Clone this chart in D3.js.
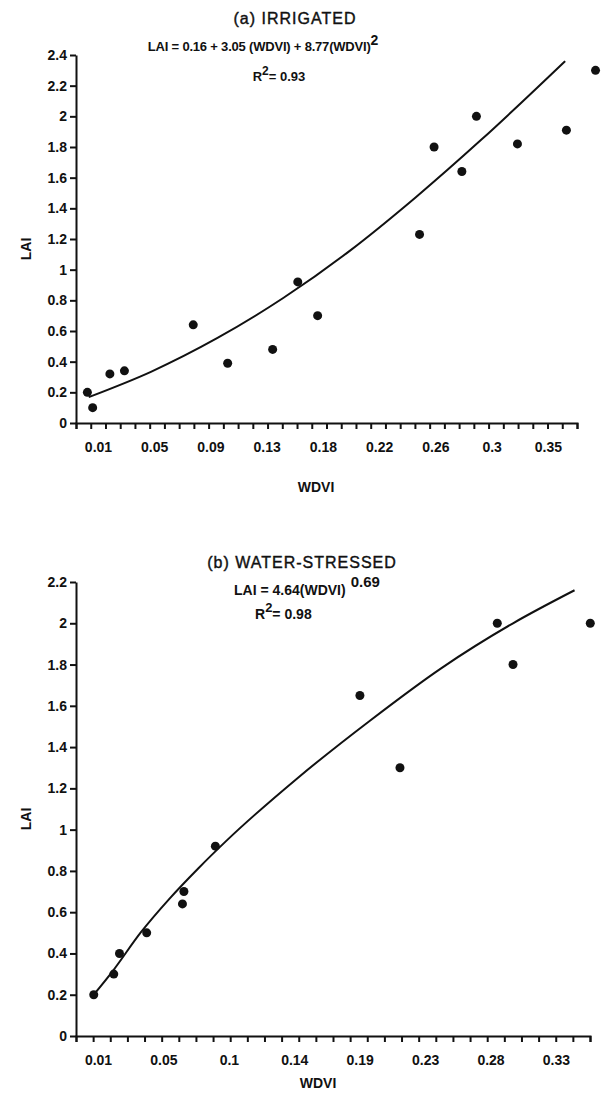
<!DOCTYPE html>
<html>
<head>
<meta charset="utf-8">
<script src="https://cdn.jsdelivr.net/npm/d3@7"></script>
<style>
  body { margin: 0; background: #fff; }
  svg text { font-family: "Liberation Sans", Arial, sans-serif; fill: #111; }
</style>
</head>
<body>
<svg id="chart" width="602" height="1093"></svg>
<script>
// ---------- DATA ----------
// (a) Irrigated
const irrWdvi = [0.002, 0.006, 0.019, 0.030, 0.082, 0.108, 0.142, 0.161, 0.176, 0.253, 0.264, 0.285, 0.296, 0.327, 0.364, 0.386];
const irrLai  = [0.20, 0.10, 0.32, 0.34, 0.64, 0.39, 0.48, 0.92, 0.70, 1.23, 1.80, 1.64, 2.00, 1.82, 1.91, 2.30];
const irrFitWdvi = [0.003, 0.05, 0.10, 0.15, 0.20, 0.25, 0.30, 0.363];
const irrFitLai  = [0.169, 0.334, 0.553, 0.815, 1.121, 1.471, 1.850, 2.36];
const irrXLabels = ["0.01", "0.05", "0.09", "0.13", "0.18", "0.22", "0.26", "0.3", "0.35"];
const irrYLabels = ["0", "0.2", "0.4", "0.6", "0.8", "1", "1.2", "1.4", "1.6", "1.8", "2", "2.2", "2.4"];

// (b) Water-stressed
const wsWdvi = [0.007, 0.021, 0.025, 0.044, 0.069, 0.070, 0.092, 0.193, 0.221, 0.289, 0.300, 0.354];
const wsLai  = [0.20, 0.30, 0.40, 0.50, 0.64, 0.70, 0.92, 1.65, 1.30, 2.00, 1.80, 2.00];
const wsFitWdvi = [0.007, 0.02, 0.04, 0.06, 0.08, 0.10, 0.15, 0.20, 0.25, 0.30, 0.343];
const wsFitLai  = [0.200, 0.312, 0.503, 0.666, 0.812, 0.948, 1.253, 1.528, 1.783, 2.000, 2.16];
const wsXLabels = ["0.01", "0.05", "0.1", "0.14", "0.19", "0.23", "0.28", "0.33"];
const wsYLabels = ["0", "0.2", "0.4", "0.6", "0.8", "1", "1.2", "1.4", "1.6", "1.8", "2", "2.2"];

// ---------- DRAW ----------
const svg = d3.select("#chart");

function panel(cfg) {
  const g = svg.append("g");
  const x = d3.scaleLinear().domain(cfg.xDomain).range([cfg.left, cfg.right]);
  const y = d3.scaleLinear().domain([0, cfg.yMax]).range([cfg.bottom, cfg.top]);

  const l0 = +cfg.xLabels[0], l1 = +cfg.xLabels[cfg.xLabels.length - 1];
  const labelVals = cfg.xLabels.map((d, i) => l0 + i * (l1 - l0) / (cfg.xLabels.length - 1));
  const minorVals = d3.range(cfg.minorCount + 1).map(i => cfg.xDomain[0] + i * (cfg.xDomain[1] - cfg.xDomain[0]) / cfg.minorCount);

  const xAxis = g.append("g").attr("transform", `translate(0,${cfg.bottom})`)
    .call(d3.axisBottom(x).tickValues(minorVals).tickFormat("").tickSize(6).tickSizeOuter(6));
  xAxis.selectAll("path,line").attr("stroke", "#111").attr("stroke-width", 2);

  const xLab = g.append("g").attr("transform", `translate(0,${cfg.bottom})`)
    .call(d3.axisBottom(x).tickValues(labelVals).tickFormat((d, i) => cfg.xLabels[i]).tickSize(0).tickPadding(19));
  xLab.select(".domain").remove();
  xLab.selectAll("text").attr("font-size", 14).attr("font-weight", "bold")
    .style("font-family", '"Liberation Sans", Arial, sans-serif').attr("fill", "#111");

  const yVals = cfg.yLabels.map(d => +d);
  const yAxis = g.append("g").attr("transform", `translate(${cfg.left},0)`)
    .call(d3.axisLeft(y).tickValues(yVals).tickFormat((d, i) => cfg.yLabels[i]).tickSize(6).tickSizeOuter(0).tickPadding(3));
  yAxis.selectAll("path,line").attr("stroke", "#111").attr("stroke-width", 2);
  yAxis.selectAll("text").attr("font-size", 14).attr("font-weight", "bold")
    .style("font-family", '"Liberation Sans", Arial, sans-serif').attr("fill", "#111");

  const fit = cfg.fitX.map((d, i) => [d, cfg.fitY[i]]);
  g.append("path").datum(fit)
    .attr("d", d3.line().x(d => x(d[0])).y(d => y(d[1])).curve(d3.curveMonotoneX))
    .attr("fill", "none").attr("stroke", "#111").attr("stroke-width", 2);

  g.selectAll("circle.pt").data(cfg.px.map((d, i) => [d, cfg.py[i]])).enter()
    .append("circle").attr("class", "pt")
    .attr("cx", d => x(d[0])).attr("cy", d => y(d[1])).attr("r", 4.5).attr("fill", "#111");

  g.append("text").attr("transform", `translate(${cfg.yTitleX},${(cfg.top + cfg.bottom) / 2 + 10}) rotate(-90)`)
    .attr("text-anchor", "middle").attr("font-size", 14).attr("font-weight", "bold").text("LAI");
  g.append("text").attr("x", cfg.xTitleX).attr("y", cfg.xTitleY)
    .attr("text-anchor", "middle").attr("font-size", 14).attr("font-weight", "bold").text("WDVI");
  return g;
}

panel({
  left: 76, right: 577, top: 55, bottom: 423, yMax: 2.4,
  xDomain: [-0.0066, 0.372], minorCount: 34,
  xLabels: irrXLabels, yLabels: irrYLabels,
  px: irrWdvi, py: irrLai, fitX: irrFitWdvi, fitY: irrFitLai,
  yTitleX: 31, xTitleX: 316, xTitleY: 492
});

panel({
  left: 76, right: 590, top: 582, bottom: 1036, yMax: 2.2,
  xDomain: [-0.0054, 0.3538], minorCount: 30,
  xLabels: wsXLabels, yLabels: wsYLabels,
  px: wsWdvi, py: wsLai, fitX: wsFitWdvi, fitY: wsFitLai,
  yTitleX: 31, xTitleX: 318, xTitleY: 1088
});

function title(xc, yb, txt) {
  svg.append("text").attr("x", xc).attr("y", yb).attr("text-anchor", "middle")
    .attr("font-size", 16).attr("letter-spacing", 1).attr("font-weight", "normal")
    .attr("stroke", "#111").attr("stroke-width", 0.4).text(txt);
}
title(295, 24, "(a) IRRIGATED");
title(302, 568, "(b) WATER-STRESSED");

const eqA = svg.append("text").attr("x", 263).attr("y", 51).attr("text-anchor", "middle")
  .attr("font-size", 13).attr("font-weight", "bold").attr("letter-spacing", -0.2);
eqA.append("tspan").text("LAI = 0.16 + 3.05 (WDVI) + 8.77(WDVI)");
eqA.append("tspan").attr("dy", -6).attr("font-size", 14).text("2");

const r2A = svg.append("text").attr("x", 279).attr("y", 81).attr("text-anchor", "middle")
  .attr("font-size", 13).attr("font-weight", "bold");
r2A.append("tspan").text("R");
r2A.append("tspan").attr("dy", -6).attr("font-size", 12).text("2");
r2A.append("tspan").attr("dy", 6).text("= 0.93");

const eqB = svg.append("text").attr("x", 234).attr("y", 595).attr("text-anchor", "start")
  .attr("font-size", 14).attr("font-weight", "bold");
eqB.append("tspan").text("LAI = 4.64(WDVI)");
eqB.append("tspan").attr("dy", -8).attr("dx", 5).attr("font-size", 15).text("0.69");

const r2B = svg.append("text").attr("x", 255).attr("y", 619).attr("text-anchor", "start")
  .attr("font-size", 14).attr("font-weight", "bold");
r2B.append("tspan").text("R");
r2B.append("tspan").attr("dy", -7).attr("font-size", 13).text("2");
r2B.append("tspan").attr("dy", 7).text("= 0.98");
</script>
</body>
</html>
